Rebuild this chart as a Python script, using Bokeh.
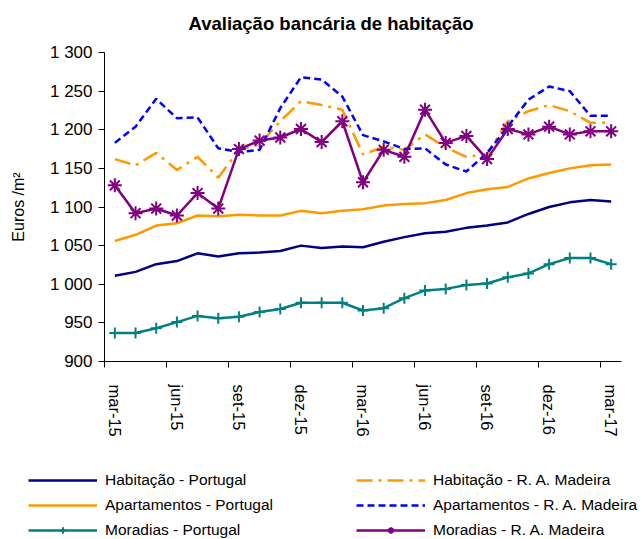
from bokeh.plotting import figure
from bokeh.models import Range1d, FixedTicker, Legend, LegendItem, Title
from bokeh.embed import file_html
from bokeh.resources import INLINE

months = ["mar-15", "abr-15", "mai-15", "jun-15", "jul-15", "ago-15", "set-15", "out-15", "nov-15",
          "dez-15", "jan-16", "fev-16", "mar-16", "abr-16", "mai-16", "jun-16", "jul-16", "ago-16",
          "set-16", "out-16", "nov-16", "dez-16", "jan-17", "fev-17", "mar-17"]

hab_pt = [1011, 1016, 1026, 1030, 1040, 1036, 1040, 1041, 1043, 1050, 1047, 1049, 1048,
          1055, 1061, 1066, 1068, 1073, 1076, 1080, 1091, 1100, 1106, 1109, 1107]
apt_pt = [1056, 1064, 1076, 1079, 1089, 1088, 1090, 1089, 1089, 1095, 1092, 1095, 1097,
          1102, 1104, 1105, 1109, 1118, 1123, 1126, 1137, 1144, 1150, 1154, 1155]
mor_pt = [937, 937, 943, 951, 959, 956, 958, 964, 968, 976, 976, 976, 966,
          969, 982, 992, 994, 999, 1001, 1009, 1014, 1026, 1034, 1034, 1026]
hab_ram = [1162, 1154, 1170, 1148, 1165, 1138, 1174, 1181, 1211, 1237, 1232, 1226, 1168,
           1178, 1174, 1194, 1177, 1165, 1168, 1211, 1224, 1232, 1224, 1209, 1209]
apt_ram = [1183, 1204, 1240, 1215, 1216, 1176, 1171, 1174, 1228, 1268, 1265, 1243, 1193,
           1185, 1175, 1176, 1155, 1146, 1170, 1204, 1239, 1256, 1250, 1218, 1218]
mor_ram = [1128, 1092, 1098, 1089, 1118, 1098, 1175, 1186, 1190, 1201, 1184, 1211, 1132,
           1174, 1165, 1226, 1183, 1192, 1162, 1201, 1194, 1204, 1194, 1198, 1198]

y_ticks = [900, 950, 1000, 1050, 1100, 1150, 1200, 1250, 1300]

series = [
    ("Habitação - Portugal", hab_pt, "#000080", None, None),
    ("Apartamentos - Portugal", apt_pt, "#FF9900", None, None),
    ("Moradias - Portugal", mor_pt, "#008080", None, "cross"),
    ("Habitação - R. A. Madeira", hab_ram, "#FF9900", "16 6 3 6", None),
    ("Apartamentos - R. A. Madeira", apt_ram, "#0000FF", "7 4", None),
    ("Moradias - R. A. Madeira", mor_ram, "#800080", None, "asterisk"),
]

x = list(range(len(months)))

FONT = "Liberation Sans"
LW = 2.5
MSIZE = {"cross": 11, "asterisk": 14}

p = figure(width=642, height=460, output_backend="svg", toolbar_location=None,
           x_range=Range1d(-0.5, len(months) - 0.5), y_range=Range1d(900, 1300),
           min_border_left=104, min_border_right=21, min_border_top=51, min_border_bottom=99)

# small spacer next to the frame so the title sits higher
p.add_layout(Title(text=" ", text_font_size="2px", standoff=5), "above")

p.title.text = "Avaliação bancária de habitação"
p.title.text_font = FONT
p.title.text_font_size = "18.5px"
p.title.text_font_style = "bold"
p.title.text_color = "black"
p.title.align = "left"
p.title.offset = 84
p.title.standoff = 20

p.outline_line_color = None
p.xgrid.grid_line_color = None
p.ygrid.grid_line_color = None

# y axis
yfmt = {}
for t in y_ticks:
    yfmt[t] = f"{t:,}".replace(",", " ")
p.yaxis.ticker = FixedTicker(ticks=y_ticks)
p.yaxis.major_label_overrides = yfmt
p.yaxis.major_tick_in = 0
p.yaxis.major_tick_out = 6
p.yaxis.minor_tick_line_color = None
p.yaxis.major_label_standoff = 6
p.yaxis.major_label_text_font = FONT
p.yaxis.major_label_text_font_size = "17px"
p.yaxis.major_label_text_color = "black"
p.yaxis.axis_line_color = "black"
p.yaxis.major_tick_line_color = "black"
p.yaxis.axis_label = "Euros /m²"
p.yaxis.axis_label_text_font = FONT
p.yaxis.axis_label_text_font_size = "16px"
p.yaxis.axis_label_text_font_style = "normal"
p.yaxis.axis_label_text_color = "black"
p.yaxis.axis_label_standoff = 20

# x axis
xt = list(range(0, len(months), 3))
p.xaxis.ticker = FixedTicker(ticks=xt, minor_ticks=[i - 0.5 for i in xt])
p.xaxis.major_label_overrides = {i: months[i] for i in xt}
p.xaxis.major_tick_line_color = None
p.xaxis.major_tick_in = 0
p.xaxis.major_tick_out = 0
p.xaxis.minor_tick_in = 0
p.xaxis.minor_tick_out = 6
p.xaxis.minor_tick_line_color = "black"
p.xaxis.axis_line_color = "black"
p.xaxis.major_label_orientation = "vertical"
p.xaxis.major_label_standoff = 17
p.xaxis.major_label_text_font = FONT
p.xaxis.major_label_text_font_size = "16.5px"
p.xaxis.major_label_text_color = "black"

# legend strip (its data lies outside its view; only the legend shows)
q = figure(width=642, height=79, output_backend="svg", toolbar_location=None,
           x_range=Range1d(-0.5, len(months) - 0.5), y_range=Range1d(0, 1),
           x_axis_type=None, y_axis_type=None,
           min_border_left=0, min_border_right=0, min_border_top=0, min_border_bottom=0)
q.outline_line_color = None
q.xgrid.grid_line_color = None
q.ygrid.grid_line_color = None

items = []
for name, vals, color, dash, marker in series:
    kw = dict(line_color=color, line_width=LW)
    if dash:
        kw["line_dash"] = dash
    p.line(x, vals, **kw)
    rs = [q.line(x, vals, **kw)]
    if marker:
        p.scatter(x, vals, marker=marker, size=MSIZE[marker], line_color=color, line_width=2)
        rs.append(q.scatter(x, vals, marker=marker, size=MSIZE[marker], line_color=color, line_width=2))
    items.append(LegendItem(label=name, renderers=rs))


def make_legend(its, loc):
    return Legend(items=its, location=loc, orientation="vertical",
                  glyph_width=69, glyph_height=16, label_height=16, label_standoff=8,
                  spacing=7, padding=0, margin=0, border_line_color=None,
                  background_fill_alpha=0, label_text_font=FONT, label_text_font_size="15.5px",
                  label_text_color="black")


q.add_layout(make_legend(items[:3], (28, 0)))
q.add_layout(make_legend(items[3:], (356, 0)))

open("out.html", "w").write(file_html([p, q], INLINE))
